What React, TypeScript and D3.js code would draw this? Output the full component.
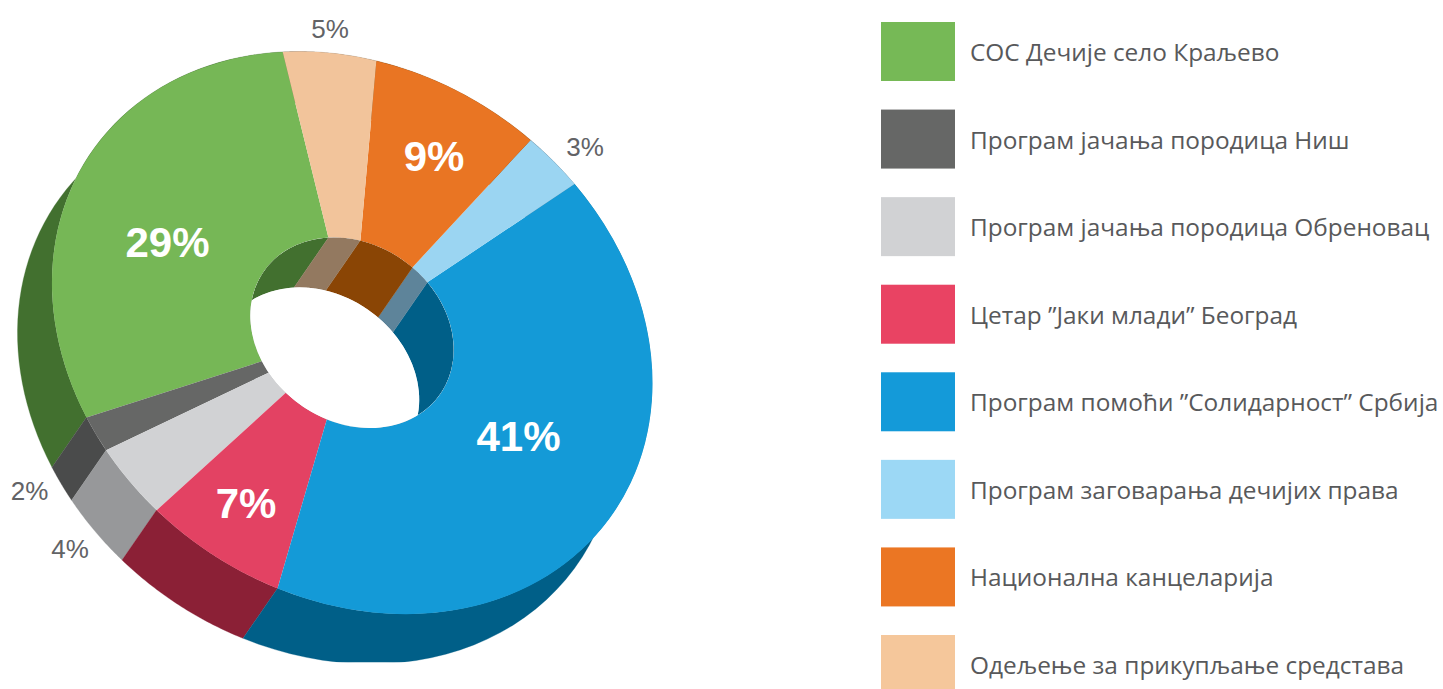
import React from "react";
import * as d3 from "d3";

const categories = [
  "СОС Дечије село Краљево",
  "Програм јачања породица Ниш",
  "Програм јачања породица Обреновац",
  "Цетар ”Јаки млади” Београд",
  "Програм помоћи ”Солидарност” Србија",
  "Програм заговарања дечијих права",
  "Национална канцеларија",
  "Одељење за прикупљање средстава",
];
const values = [29, 2, 4, 7.3, 40.7, 3.15, 8.85, 5];
const topColors = ["#76b756", "#666766", "#d1d2d4", "#e34263", "#149ad7", "#9bd5f2", "#e97523", "#f2c49b"];
const sideColors = ["#42702f", "#4a4b4b", "#97989a", "#8b2036", "#005f88", "#5e849a", "#8a4505", "#937960"];
const legendColors = ["#76b956", "#666766", "#d1d2d4", "#e94363", "#149ad9", "#9cd8f5", "#eb7623", "#f5c79b"];
// label placement for each slice, in slice order
const labelX = [167.5, 29.5, 70, 246, 518.5, 585, 434, 330];
const labelY = [242, 491, 549, 503, 436, 147, 156, 29];
const labelInside = [true, false, false, true, true, false, true, false];

const W = 1443;
const H = 689;
const cx = 352;
const cy = 332.7;
// symmetric matrix mapping the unit circle onto the tilted top face
const m = { a: 298.9, b: 25.9, c: 25.9, d: 280 };
const innerR = 0.339;
const depth = { x: -34.5, y: 50 };
const sideFloor = 662.3;
const start = (-8.4 * Math.PI) / 180;

const project = (r: number, ang: number, dx = 0, dy = 0): [number, number] => {
  const ux = r * Math.sin(ang);
  const uy = -r * Math.cos(ang);
  return [cx + m.a * ux + m.c * uy + dx, cy + m.b * ux + m.d * uy + dy];
};

const pieGen = d3
  .pie<number>()
  .sort(null)
  .startAngle(start)
  .endAngle(start - 2 * Math.PI);
const slices = pieGen(values);
const arcGen = d3.arc<d3.PieArcDatum<number>>().innerRadius(innerR).outerRadius(1);
const line = d3.line();

const wall = (r: number, s: d3.PieArcDatum<number>) => {
  const a = d3.scaleLinear().domain([0, 48]).range([s.startAngle, s.endAngle]);
  const steps = d3.range(0, 49);
  const near = steps.map((i) => project(r, a(i)));
  const far = steps.slice().reverse().map((i) => project(r, a(i), depth.x, depth.y));
  return line([...near, ...far]) + "Z";
};

const matrix = `matrix(${m.a} ${m.b} ${m.c} ${m.d} ${cx} ${cy})`;
const legendY = d3.scaleLinear().domain([0, 7]).range([22, 635]);

export default function App() {
  return (
    <svg width={W} height={H} style={{ position: "absolute", left: 0, top: 0, display: "block", background: "#fff" }}>
      <defs>
        <clipPath id="hole">
          <circle r={innerR} transform={matrix} />
        </clipPath>
        <clipPath id="floor">
          <rect x={0} y={0} width={W} height={sideFloor} />
        </clipPath>
      </defs>
      <g clipPath="url(#floor)">
        {slices.map((s, i) => (
          <path key={i} d={wall(1, s)} fill={sideColors[i]} stroke={sideColors[i]} strokeWidth={0.3} />
        ))}
      </g>
      <g transform={matrix}>
        {slices.map((s, i) => (
          <path key={i} d={arcGen(s) as string} fill={topColors[i]} />
        ))}
      </g>
      <g clipPath="url(#hole)">
        <circle r={innerR} transform={matrix} fill="#fff" />
        {slices.map((s, i) => (
          <path key={i} d={wall(innerR, s)} fill={sideColors[i]} stroke={sideColors[i]} strokeWidth={0.3} />
        ))}
        <g transform={`translate(${depth.x} ${depth.y})`}>
          <circle r={innerR} transform={matrix} fill="#fff" />
        </g>
      </g>
      {values.map((v, i) => (
        <text
          key={i}
          x={labelX[i]}
          y={labelY[i]}
          textAnchor="middle"
          dominantBaseline="central"
          fontFamily="'Liberation Sans', Arial, sans-serif"
          fontSize={labelInside[i] ? 42 : 26}
          fontWeight={labelInside[i] ? 700 : 400}
          fill={labelInside[i] ? "#fff" : "#626366"}
        >
          {Math.round(v)}%
        </text>
      ))}
      {categories.map((c, i) => (
        <g key={i}>
          <rect x={881} y={legendY(i)} width={74} height={59} fill={legendColors[i]} />
          <text x={970} y={legendY(i) + 39} fontFamily="'Open Sans', sans-serif" fontSize={24.4} fill="#58595b">
            {c}
          </text>
        </g>
      ))}
    </svg>
  );
}
